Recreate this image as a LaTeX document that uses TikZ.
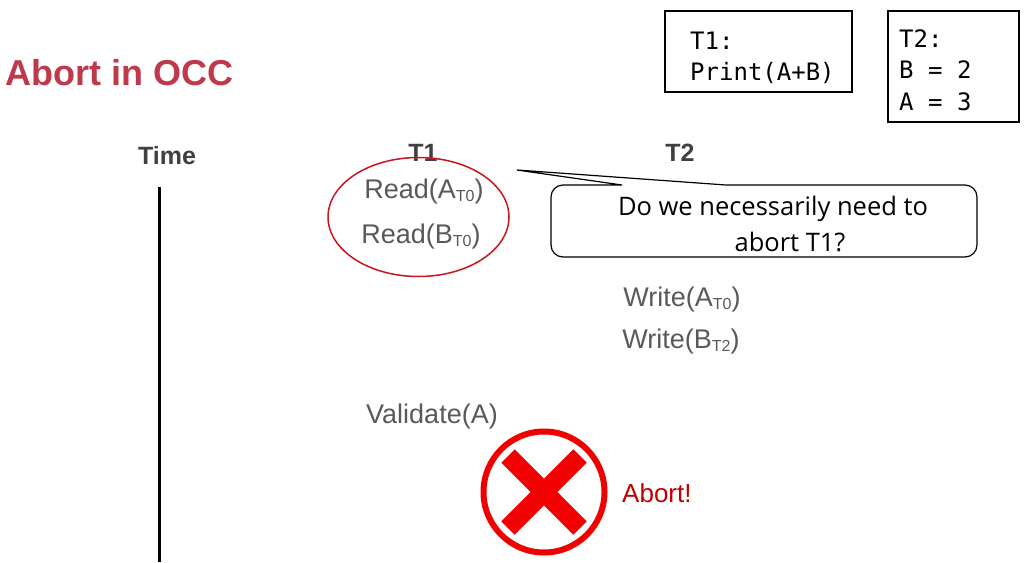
\documentclass[tikz,border=0pt]{standalone}
\usepackage{fontspec}
\setmainfont{Liberation Sans}
\newfontfamily\calfont{Open Sans}
\newfontfamily\codefont{DejaVu Sans Mono}
\usetikzlibrary{shapes.geometric}
\definecolor{titlered}{RGB}{192,57,75}
\definecolor{txtgray}{RGB}{89,89,89}
\definecolor{hdgray}{RGB}{64,64,64}
\definecolor{ringred}{RGB}{200,20,30}
\definecolor{xred}{RGB}{240,0,0}
\definecolor{abortred}{RGB}{192,0,0}
\newcommand{\sbs}[1]{\raisebox{-3pt}{\fontsize{16}{16}\selectfont #1}}
\tikzset{
  optext/.style={inner sep=0pt, text=txtgray, font=\fontsize{27}{30}\selectfont},
  hdtext/.style={inner sep=0pt, text=hdgray, font=\fontsize{25}{28}\selectfont\bfseries},
  codetext/.style={inner sep=0pt, anchor=base west, font=\codefont\fontsize{24}{28}\selectfont},
  calltext/.style={inner sep=0pt, font=\calfont\fontsize{25.5}{28}\selectfont},
  codebox/.style={draw=black, line width=1.5pt}
}
\begin{document}
\begin{tikzpicture}[x=1pt,y=-1pt]
\useasboundingbox (0,0) rectangle (1024,562);
% title
\node[inner sep=0pt, anchor=base west, text=titlered, font=\fontsize{36}{40}\selectfont\bfseries] (title) at (5,85) {Abort in OCC};
% code boxes
\draw[codebox] (665,11) rectangle (852,92);
\node[codetext] (t1a) at (690,49) {T1:};
\node[codetext] (t1b) at (690,80) {Print(A+B)};
\draw[codebox] (888,11) rectangle (1019,122);
\node[codetext] (t2a) at (899,47) {T2:};
\node[codetext] (t2b) at (899,78) {B = 2};
\node[codetext] (t2c) at (899,110) {A = 3};
% headers
\node[hdtext] (time) at (167,156) {Time};
\node[hdtext] (h1) at (423,153) {T1};
\node[hdtext] (h2) at (680,153) {T2};
% time axis
\coordinate (ttop) at (159,187);
\coordinate (tbot) at (159,562);
\draw[line width=3pt] (ttop) -- (tbot);
% operations
\node[optext] (ra) at (424,192) {Read(A\sbs{T0})};
\node[optext] (rb) at (421,237) {Read(B\sbs{T0})};
\node[draw=ringred, line width=1.5pt, ellipse, minimum width=181pt, minimum height=119pt, inner sep=0pt] (ell) at (418.5,217) {};
\node[optext] (wa) at (682,300) {Write(A\sbs{T0})};
\node[optext] (wb) at (681,342) {Write(B\sbs{T2})};
\node[optext] (val) at (432,417) {Validate(A)};
% callout
\coordinate (tip) at (517,170);
\draw[line width=1.2pt, line join=miter] (622,185) -- (tip) -- (726,185)
  [rounded corners=12pt] -- (977,185) -- (977,257) -- (551,257) -- (551,185) [sharp corners] -- cycle;
\node[calltext] (q1) at (773,209) {Do we necessarily need to};
\node[calltext] (q2) at (790,242) {abort T1?};
% abort symbol
\node[circle, draw=xred, line width=6pt, minimum size=121pt, inner sep=0pt] (ring) at (544,492) {};
\draw[xred, line width=19pt] (508,456) -- (580,528);
\draw[xred, line width=19pt] (508,528) -- (580,456);
\node[inner sep=0pt, anchor=west, text=abortred, font=\fontsize{26}{30}\selectfont] (ab) at (622,493) {Abort!};
\end{tikzpicture}
\end{document}
